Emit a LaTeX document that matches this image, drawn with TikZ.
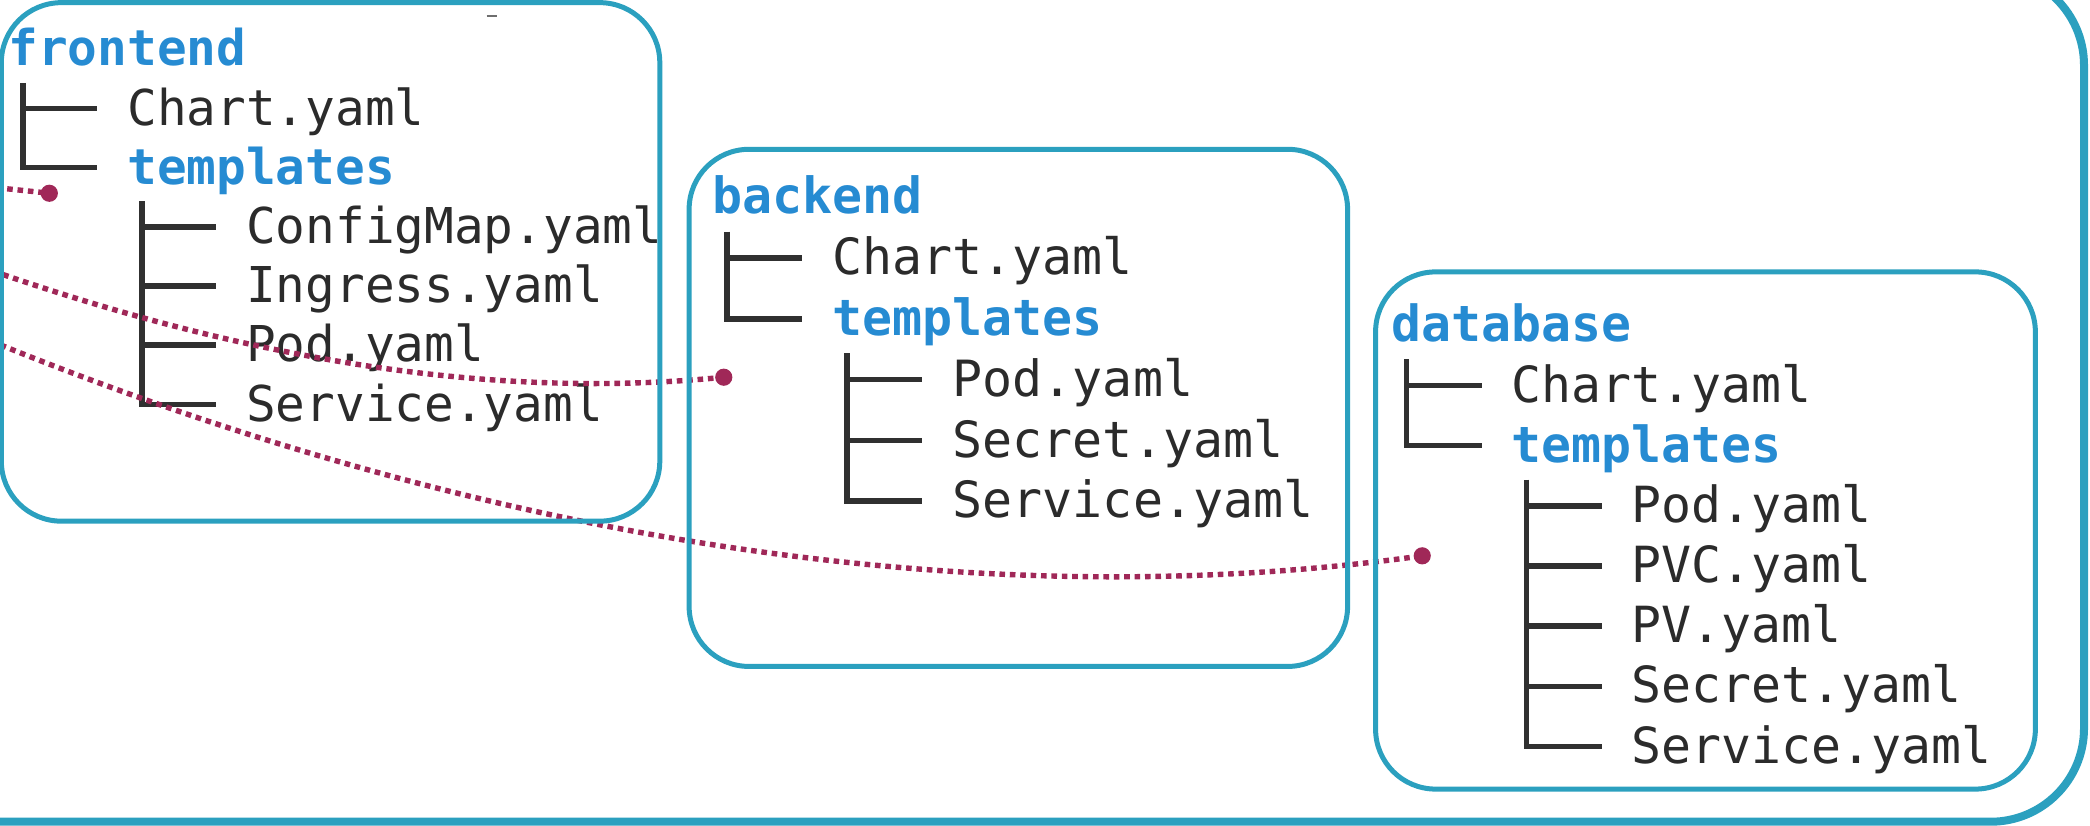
\documentclass[tikz,border=0pt]{standalone}
\usepackage{fontspec}
\setmonofont{DejaVu Sans Mono}
\definecolor{boxteal}{HTML}{2BA0BF}
\definecolor{dirblue}{HTML}{268BD2}
\definecolor{filedark}{HTML}{2B2B2B}
\definecolor{linkred}{HTML}{A02858}
\definecolor{treegray}{HTML}{303030}
\newcommand\entry[5]{\node[#4] (#1) at ({\tbx+#2*\tcw},{\tby+#3*\tbp+12.5}) {#5};}
\newcommand\treeone{%
  \draw[treeline] ({\tbx+0.5*\tcw},{\tby+0.5*\tbp+3}) |- ({\tbx+3*\tcw},{\tby+2*\tbp});
  \draw[treeline] ({\tbx+0.5*\tcw},{\tby+\tbp}) -- ({\tbx+3*\tcw},{\tby+\tbp});}
\newcommand\treetwo[2]{%
  \draw[treeline] ({\tbx+4.5*\tcw},{\tby+2.5*\tbp+3}) |- ({\tbx+7*\tcw},{\tby+#1*\tbp});
  \foreach \rr in {#2} {\draw[treeline] ({\tbx+4.5*\tcw},{\tby+\rr*\tbp}) -- ({\tbx+7*\tcw},{\tby+\rr*\tbp});}}
\begin{document}
\begin{tikzpicture}[x=0.6665pt, y=-0.6665pt,
  filetxt/.style={font=\ttfamily\fontsize{\tfs pt}{\tfs pt}\selectfont, text=filedark, anchor=base west, inner sep=0pt},
  dirtxt/.style={filetxt, font=\ttfamily\bfseries\fontsize{\tfs pt}{\tfs pt}\selectfont, text=dirblue},
  treeline/.style={draw=treegray, line width=2.8pt},
  chartbox/.style={draw=boxteal, line width=2.5pt, rounded corners=30pt},
  outerbox/.style={draw=boxteal, line width=4pt, rounded corners=46.7pt},
  link/.style={draw=linkred, line width=2.7pt, dash pattern=on 2.8pt off 2.4pt},
  linkdot/.style={circle, fill=linkred, inner sep=0pt, minimum size=8.6pt}]
\useasboundingbox (0,0) rectangle (1568,619);
\clip (0,0) rectangle (1568,619);
% frontend
\def\tbx{6}\def\tby{37}\def\tbp{44.4}\def\tcw{22.3}\def\tfs{24.69}
\entry{fe}{0}{0}{dirtxt}{frontend}
\entry{fe-chart}{4}{1}{filetxt}{Chart.yaml}
\entry{fe-tpl}{4}{2}{dirtxt}{templates}
\entry{fe-cm}{8}{3}{filetxt}{ConfigMap.yaml}
\entry{fe-ing}{8}{4}{filetxt}{Ingress.yaml}
\entry{fe-pod}{8}{5}{filetxt}{Pod.yaml}
\entry{fe-svc}{8}{6}{filetxt}{Service.yaml}
\treeone
\treetwo{6}{3,4,5}
% backend
\def\tbx{534}\def\tby{148}\def\tbp{45.6}\def\tcw{22.55}\def\tfs{24.97}
\entry{be}{0}{0}{dirtxt}{backend}
\entry{be-chart}{4}{1}{filetxt}{Chart.yaml}
\entry{be-tpl}{4}{2}{dirtxt}{templates}
\entry{be-pod}{8}{3}{filetxt}{Pod.yaml}
\entry{be-sec}{8}{4}{filetxt}{Secret.yaml}
\entry{be-svc}{8}{5}{filetxt}{Service.yaml}
\treeone
\treetwo{5}{3,4}
% database
\def\tbx{1044}\def\tby{244}\def\tbp{45.15}\def\tcw{22.5}\def\tfs{24.91}
\entry{db}{0}{0}{dirtxt}{database}
\entry{db-chart}{4}{1}{filetxt}{Chart.yaml}
\entry{db-tpl}{4}{2}{dirtxt}{templates}
\entry{db-pod}{8}{3}{filetxt}{Pod.yaml}
\entry{db-pvc}{8}{4}{filetxt}{PVC.yaml}
\entry{db-pv}{8}{5}{filetxt}{PV.yaml}
\entry{db-sec}{8}{6}{filetxt}{Secret.yaml}
\entry{db-svc}{8}{7}{filetxt}{Service.yaml}
\treeone
\treetwo{7}{3,4,5,6}
% links
\coordinate (s1) at (-80,133);
\coordinate (s2) at (-100,168);
\coordinate (s3) at (-100,216);
\node[linkdot] (d1) at (37,145) {};
\node[linkdot] (d2) at (543,283) {};
\node[linkdot] (d3) at (1067,417) {};
\draw[link] (s1) .. controls (-40,137) and (0,141) .. (d1.center);
\draw[link] (s2) .. controls (100,248) and (323,305) .. (d2.center);
\draw[link] (s3) .. controls (250,373.5) and (667,473) .. (d3.center);
% boxes
\draw[chartbox] (1,2) rectangle (495,391);
\draw[chartbox] (517,112) rectangle (1011,500);
\draw[chartbox] (1032,204) rectangle (1527,592);
\draw[outerbox] (-200,-21) rectangle (1563.5,616.5);
\draw[treegray!70, line width=0.8pt] (365,12) -- (373,12);
\end{tikzpicture}
\end{document}
